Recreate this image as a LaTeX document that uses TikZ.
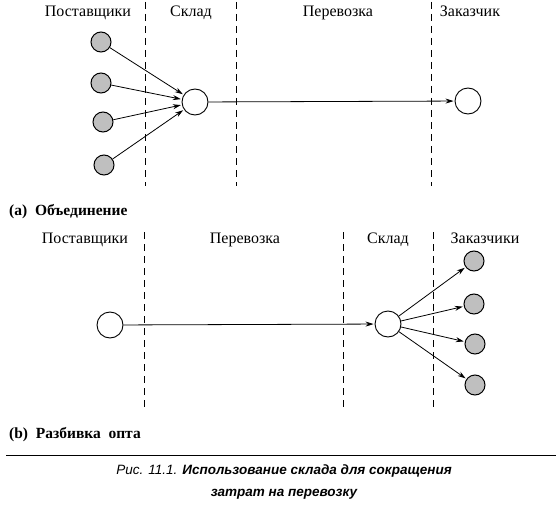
\documentclass[tikz,border=0pt]{standalone}
\usepackage{fontspec}
\setmainfont{Liberation Serif}
\newfontfamily\capfont{Liberation Sans}
\usetikzlibrary{arrows.meta}
\tikzset{
  lbl/.style={font=\fontsize{16}{18}\selectfont, inner sep=0pt, anchor=base},
  sub/.style={font=\fontsize{15.5}{17}\selectfont\bfseries, inner sep=0pt, anchor=base west},
  sep/.style={dashed, dash pattern=on 7pt off 5pt, line width=0.8pt},
  big/.style={circle, draw, line width=0.9pt, minimum size=26pt, inner sep=0pt, fill=white},
  small/.style={circle, draw, line width=1pt, minimum size=20pt, inner sep=0pt, fill=gray!50},
  arr/.style={line width=0.8pt, -{Stealth[length=8pt,width=5pt]}, shorten >=1pt},
}
\begin{document}
\begin{tikzpicture}[x=1pt,y=-1pt]
\useasboundingbox (0,0) rectangle (560,511);
% --- (a) ---
\node[lbl] (a1) at (88,17) {Поставщики};
\node[lbl] (a2) at (191,17) {Склад};
\node[lbl] (a3) at (338,17) {Перевозка};
\node[lbl] (a4) at (470,17) {Заказчик};
\coordinate (da1t) at (145,2); \coordinate (da1b) at (145,186);
\coordinate (da2t) at (236,2); \coordinate (da2b) at (236,186);
\coordinate (da3t) at (431,2); \coordinate (da3b) at (431,186);
\draw[sep] (da1t) -- (da1b);
\draw[sep] (da2t) -- (da2b);
\draw[sep] (da3t) -- (da3b);
\node[small] (s1) at (101,42) {};
\node[small] (s2) at (101,83) {};
\node[small] (s3) at (103,122) {};
\node[small] (s4) at (104,165) {};
\node[big] (w) at (195,102) {};
\node[big] (c) at (468,101) {};
\foreach \s in {s1,s2,s3,s4} \draw[arr] (\s) -- (w);
\draw[arr] (w) -- (c);
\node[sub] (ta) at (9,215) {(a)\ \ Объединение};
% --- (b) ---
\node[lbl] (b1) at (85,243) {Поставщики};
\node[lbl] (b2) at (245,243) {Перевозка};
\node[lbl] (b3) at (388,243) {Склад};
\node[lbl] (b4) at (485,243) {Заказчики};
\coordinate (db1t) at (144,232); \coordinate (db1b) at (144,410);
\coordinate (db2t) at (343,232); \coordinate (db2b) at (343,410);
\coordinate (db3t) at (433,232); \coordinate (db3b) at (433,410);
\draw[sep] (db1t) -- (db1b);
\draw[sep] (db2t) -- (db2b);
\draw[sep] (db3t) -- (db3b);
\node[big] (p) at (110,325) {};
\node[big] (w2) at (388,324) {};
\node[small] (k1) at (474,261) {};
\node[small] (k2) at (474,304) {};
\node[small] (k3) at (475,344) {};
\node[small] (k4) at (475,385) {};
\draw[arr] (p) -- (w2);
\foreach \k in {k1,k2,k3,k4} \draw[arr] (w2) -- (\k);
\node[sub] (tb) at (9,438) {(b)\ \ Разбивка\ \ опта};
% --- caption ---
\coordinate (hl) at (6,455); \coordinate (hr) at (556,455);
\draw[line width=1pt] (hl) -- (hr);
\node[font=\capfont\fontsize{13.5}{15}\selectfont\itshape, inner sep=0pt, anchor=base] (cap1) at (284,474) {Рис. 11.1. \textbf{Использование склада для сокращения}};
\node[font=\capfont\fontsize{13.5}{15}\selectfont\itshape\bfseries, inner sep=0pt, anchor=base] (cap2) at (284,496) {затрат на перевозку};
\end{tikzpicture}
\end{document}
